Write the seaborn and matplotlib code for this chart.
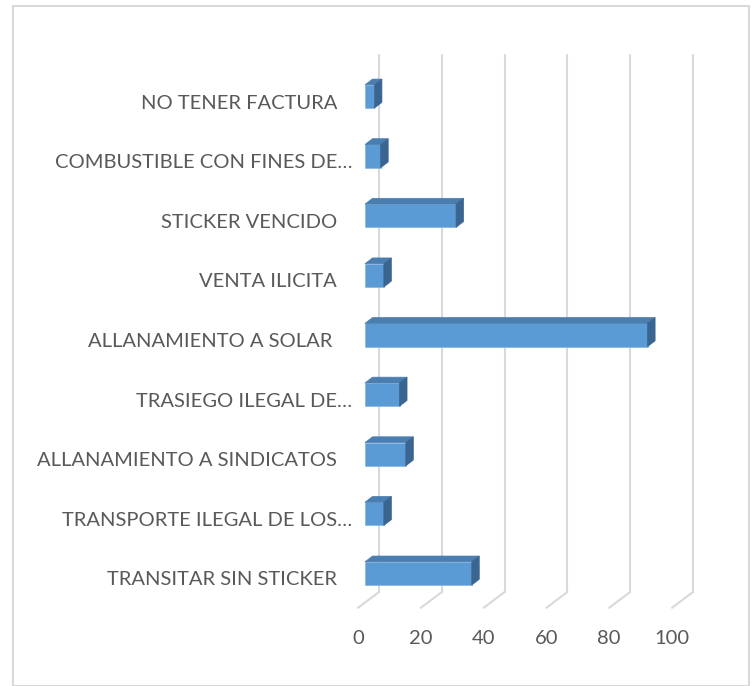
import numpy as np
import pandas as pd
import matplotlib
matplotlib.use("Agg")
import matplotlib.pyplot as plt
import matplotlib.transforms as mtransforms
from matplotlib.patches import Polygon, Rectangle
import seaborn as sns

# data
categories = [
    "NO TENER FACTURA",
    "COMBUSTIBLE CON FINES DE…",
    "STICKER VENCIDO",
    "VENTA ILICITA",
    "ALLANAMIENTO A SOLAR ",
    "TRASIEGO ILEGAL DE…",
    "ALLANAMIENTO A SINDICATOS",
    "TRANSPORTE ILEGAL DE LOS…",
    "TRANSITAR SIN STICKER",
]
values = [3, 5, 29, 6, 90, 11, 13, 6, 34]
x_ticks = [0, 20, 40, 60, 80, 100]

FRONT = "#5b9bd5"
TOP = "#4a7db0"
SIDE = "#3a6590"
GRID = "#d9d9d9"
TEXT = "#595959"

sns.set_style("white")
plt.rcParams['font.family'] = ['Lato', 'DejaVu Sans']

W, H = 754, 686
fig = plt.figure(figsize=(W / 100, H / 100), dpi=100)

# axes placed in pixel terms (front plane of the bars)
left, right, top, bottom = 365, 679, 65.5, 602.5
ax = fig.add_axes([left / W, 1 - bottom / H, (right - left) / W, (bottom - top) / H])

df = pd.DataFrame({"cat": categories, "val": values})
sns.barplot(data=df, y="cat", x="val", orient="h", color=FRONT, width=0.39,
            saturation=1, edgecolor="#8db8e3", linewidth=0.6, ax=ax, zorder=3)

ax.set_xlim(0, 100)
ax.set_ylim(8.487, -0.52)
sns.despine(ax=ax, left=True, bottom=True)
ax.set_xlabel("")
ax.set_ylabel("")

def px_shift(dx, dy):
    return mtransforms.ScaledTranslation(dx / 100, dy / 100, fig.dpi_scale_trans)

# back-wall gridlines and floor diagonals
y_floor, y_top = ax.get_ylim()
for t in x_ticks:
    ax.plot([t, t], [y_floor, y_top], color=GRID, lw=1.5, zorder=1, clip_on=False,
            transform=ax.transData + px_shift(14, 10.5))
    p_back = (ax.transData + px_shift(14, 10.5)).transform((t, y_floor))
    p_front = (ax.transData + px_shift(-7, -5.3)).transform((t, y_floor))
    ax.add_line(plt.Line2D([p_back[0], p_front[0]], [p_back[1], p_front[1]],
                           transform=None, color=GRID, lw=1.5, zorder=1, clip_on=False))

# 3d top and side faces for each bar
dx, dy = 7.5, 5.8
for bar in ax.patches:
    bb = bar.get_bbox()
    (x0, y0), (x1, y1) = ax.transData.transform([(bb.x0, bb.y0), (bb.x1, bb.y1)])
    ylo, yhi = min(y0, y1), max(y0, y1)
    top_face = [(x0, yhi), (x1, yhi), (x1 + dx, yhi + dy), (x0 + dx, yhi + dy)]
    side_face = [(x1, ylo), (x1, yhi), (x1 + dx, yhi + dy), (x1 + dx, ylo + dy)]
    ax.add_patch(Polygon(top_face, closed=True, transform=None, facecolor=TOP,
                         edgecolor=TOP, lw=0.5, zorder=4, clip_on=False))
    ax.add_patch(Polygon(side_face, closed=True, transform=None, facecolor=SIDE,
                         edgecolor=SIDE, lw=0.5, zorder=4, clip_on=False))

# x tick labels at the front edge of the floor
ax.set_xticks(x_ticks)
ax.set_xticklabels([str(t) for t in x_ticks], fontsize=14.5, color=TEXT)
ax.tick_params(axis="x", length=0, pad=20)
for lab in ax.get_xticklabels():
    lab.set_transform(lab.get_transform() + px_shift(-7, 0))

# y tick labels
ax.tick_params(axis="y", length=0, pad=20)
for lab in ax.get_yticklabels():
    lab.set_fontsize(14.5)
    lab.set_color(TEXT)
    shift = 15 if lab.get_text().endswith("…") else 0
    lab.set_transform(lab.get_transform() + px_shift(shift, -5))

# outer chart border
fig.add_artist(Rectangle((13 / W, 0), (749 - 13) / W, 1 - 6 / H, transform=fig.transFigure,
                         fill=False, edgecolor="#d9d9d9", lw=1.5))

fig.savefig("out.png", dpi=100)
